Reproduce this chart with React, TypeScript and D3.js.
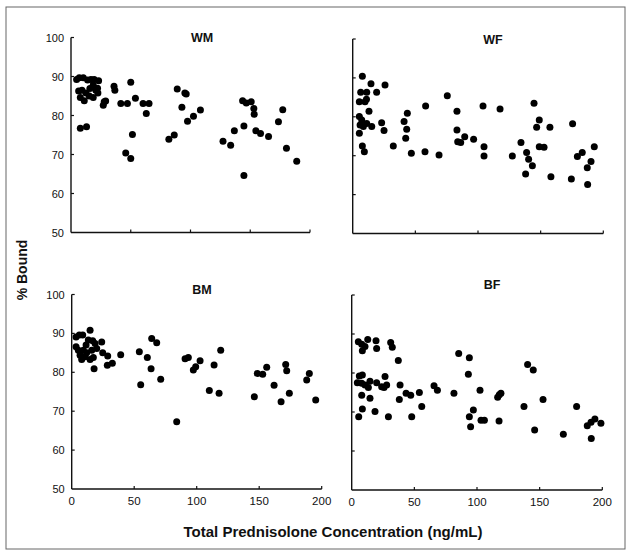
import React from "react";
import * as d3 from "d3";

// Data: [concentration ng/mL, % bound]
const wmData: [number, number][] = [
  [4.7, 89.2], [6.9, 89.7], [10.3, 89.7], [13.9, 89.1], [16.7, 89.2], [19.4, 89.2], [23.1, 88.9],
  [6.4, 86.3], [9.2, 86.5], [12.5, 85.8], [15.8, 86.9], [18.6, 87.8], [20.8, 86.5], [22.5, 85.8],
  [7.8, 84.6], [11.1, 83.8], [15.3, 85.0], [18.6, 84.6], [22.2, 87.0],
  [7.8, 76.7], [13.0, 77.1], [27.8, 83.5], [27.0, 82.6], [29.0, 83.7],
  [36.0, 87.5], [36.7, 86.5], [41.7, 83.1], [47.2, 83.1], [50.0, 88.5], [53.9, 84.4],
  [51.4, 75.1], [45.8, 70.4], [50.0, 69.0], [60.3, 83.1], [65.3, 83.1], [63.0, 80.5],
  [81.9, 73.9], [86.4, 75.0], [88.9, 86.8], [95.3, 85.8], [96.4, 85.5], [92.8, 82.1],
  [97.5, 78.5], [102.5, 79.8], [108.3, 81.4], [127.2, 73.4], [133.6, 72.4], [136.7, 76.1],
  [144.7, 64.6], [144.7, 77.3], [143.6, 83.8], [146.7, 83.2], [150.8, 83.5], [153.0, 81.8],
  [153.3, 80.3], [154.7, 76.1], [158.6, 75.4], [165.3, 74.6], [173.6, 78.4], [177.2, 81.5],
  [180.3, 71.6], [188.9, 68.3],
];

const wfData: [number, number][] = [
  [7.7, 90.4], [6.4, 86.3], [11.2, 86.3], [14.6, 88.5], [19.1, 86.3], [25.8, 88.2],
  [5.3, 83.9], [9.8, 83.9], [11.0, 84.5], [13.0, 81.4], [5.3, 80.1], [7.2, 79.2], [11.2, 78.3],
  [5.9, 77.9], [8.5, 77.5], [15.2, 77.5], [5.3, 75.8], [23.1, 78.5], [25.0, 76.5],
  [7.7, 72.5], [9.3, 71.0], [32.4, 72.5], [41.0, 78.8], [43.6, 80.9], [43.1, 76.8],
  [42.3, 74.5], [46.8, 70.6], [57.7, 71.0], [58.2, 82.8], [68.9, 70.2], [75.5, 85.4],
  [83.2, 81.4], [83.2, 76.6], [83.8, 73.6], [86.2, 73.4], [89.4, 74.9], [96.5, 74.2],
  [104.0, 82.8], [104.8, 72.3], [104.8, 69.9], [117.6, 82.0], [127.4, 69.9], [134.3, 73.4],
  [138.8, 70.8], [140.4, 69.1], [143.4, 67.4], [138.0, 65.3], [144.7, 83.5], [148.9, 79.2],
  [146.8, 77.3], [148.9, 72.3], [152.7, 72.2], [157.4, 77.3], [158.2, 64.6], [174.5, 64.0],
  [175.5, 78.2], [179.3, 69.8], [183.2, 70.8], [187.2, 66.9], [187.5, 62.6], [190.2, 68.5],
  [192.8, 72.3],
];

const bmData: [number, number][] = [
  [3.5, 89.1], [6.1, 89.6], [8.8, 89.6], [3.5, 86.6], [5.3, 85.7], [6.7, 84.4], [8.0, 83.3],
  [10.7, 84.0], [11.5, 87.0], [13.3, 88.3], [14.7, 90.8], [16.0, 85.7], [17.3, 83.8],
  [18.7, 87.4], [20.0, 86.1], [16.8, 88.1], [9.3, 85.7], [12.0, 85.0], [14.7, 83.3],
  [17.9, 80.9], [24.0, 87.8], [24.8, 85.0], [28.8, 84.2], [28.5, 81.8], [32.5, 82.3],
  [39.2, 84.5], [54.1, 85.3], [55.2, 76.8], [60.5, 83.8], [64.0, 88.7], [68.0, 87.6],
  [63.5, 80.9], [71.2, 78.2], [84.0, 67.3], [90.7, 83.5], [93.3, 83.8], [97.3, 80.6],
  [99.2, 81.4], [102.7, 83.0], [110.1, 75.3], [113.9, 81.9], [117.9, 74.6], [119.2, 85.7],
  [146.1, 73.7], [148.5, 79.7], [152.8, 79.5], [156.0, 81.3], [161.9, 76.7], [167.5, 72.4],
  [171.2, 82.0], [172.0, 80.4], [174.1, 74.6], [188.0, 78.0], [190.1, 79.7], [195.2, 72.9],
];

const bfData: [number, number][] = [
  [5.3, 88.0], [8.0, 87.4], [12.8, 88.6], [19.4, 88.3], [19.9, 86.3], [10.6, 86.8], [8.5, 85.7],
  [31.1, 87.8], [32.4, 86.6], [37.2, 83.2], [6.1, 79.2], [8.5, 79.5], [4.5, 77.5], [8.0, 77.4],
  [10.6, 76.9], [13.3, 76.3], [14.6, 77.9], [19.9, 77.5], [23.9, 76.5], [26.6, 79.1],
  [27.9, 76.9], [25.8, 76.3], [8.0, 74.3], [14.6, 73.5], [8.5, 70.8], [5.6, 68.8], [18.6, 70.1],
  [29.3, 68.8], [38.6, 76.9], [38.0, 73.2], [43.4, 74.8], [47.1, 74.3], [47.9, 68.8],
  [54.0, 75.0], [55.9, 71.4], [65.7, 76.7], [68.4, 75.6], [81.6, 74.8], [85.4, 85.0],
  [93.9, 83.9], [93.1, 79.7], [93.9, 68.8], [94.9, 66.2], [97.1, 70.5], [102.4, 75.6],
  [103.2, 67.9], [105.9, 67.9], [116.5, 73.8], [117.8, 74.4], [119.1, 74.8], [117.6, 67.7],
  [137.5, 71.4], [140.4, 82.2], [144.9, 80.8], [146.0, 65.4], [152.7, 73.2], [168.9, 64.3],
  [179.5, 71.4], [188.0, 66.5], [191.0, 67.4], [194.1, 68.2], [191.2, 63.2], [198.9, 67.1],
];

const panelTitles = ["WM", "WF", "BM", "BF"];
const xTicks = [0, 50, 100, 150, 200];
const yTicks = [50, 60, 70, 80, 90, 100];
const xLabel = "Total Prednisolone Concentration (ng/mL)";
const yLabel = "% Bound";

type Panel = {
  title: string;
  data: [number, number][];
  x0: number; x1: number; yTop: number; yBot: number;
  titleX: number; titleY: number;
  showY: boolean; showX: boolean;
};

const panels: Panel[] = [
  { title: panelTitles[0], data: wmData, x0: 71, x1: 310, yTop: 37.5, yBot: 232.5, titleX: 202, titleY: 41.5, showY: true, showX: false },
  { title: panelTitles[1], data: wfData, x0: 352.7, x1: 603.3, yTop: 39, yBot: 233.5, titleX: 493, titleY: 43.5, showY: false, showX: false },
  { title: panelTitles[2], data: bmData, x0: 71.7, x1: 321.7, yTop: 294.5, yBot: 489, titleX: 202, titleY: 293.5, showY: true, showX: true },
  { title: panelTitles[3], data: bfData, x0: 351.7, x1: 602.3, yTop: 295, yBot: 490, titleX: 492, titleY: 289, showY: false, showX: true },
];

const font = "'Liberation Sans', Arial, Helvetica, sans-serif";

function PanelView({ p }: { p: Panel }) {
  const x = d3.scaleLinear().domain([0, 200]).range([p.x0, p.x1]);
  const y = d3.scaleLinear().domain([50, 100]).range([p.yBot, p.yTop]);
  const tl = 3;
  return (
    <g>
      <text x={p.titleX} y={p.titleY} textAnchor="middle" fontFamily={font} fontWeight="bold" fontSize={12.5} fill="#111">
        {p.title}
      </text>
      <line x1={x(0)} x2={x(0)} y1={y(50)} y2={y(100)} stroke="#111" strokeWidth={1.4} />
      <line x1={x(0)} x2={x(200)} y1={y(50)} y2={y(50)} stroke="#111" strokeWidth={1.4} />
      {yTicks.filter((t) => t !== 50).map((t) => (
        <line key={"yt" + t} x1={x(0)} x2={x(0) + tl} y1={y(t)} y2={y(t)} stroke="#111" strokeWidth={1.2} />
      ))}
      {xTicks.filter((t) => t !== 0).map((t) => (
        <line key={"xt" + t} x1={x(t)} x2={x(t)} y1={y(50)} y2={y(50) - tl} stroke="#111" strokeWidth={1.2} />
      ))}
      {p.showY && yTicks.map((t) => (
        <text key={"yl" + t} x={x(0) - 7} y={y(t) + 4} textAnchor="end" fontFamily={font} fontSize={11} fill="#111">
          {t}
        </text>
      ))}
      {p.showX && xTicks.map((t) => (
        <text key={"xl" + t} x={x(t)} y={y(50) + 16} textAnchor="middle" fontFamily={font} fontSize={11.5} fill="#111">
          {t}
        </text>
      ))}
      {p.data.map((d, i) => (
        <circle key={i} cx={x(d[0])} cy={y(d[1])} r={3.5} fill="#000" />
      ))}
    </g>
  );
}

export default function App() {
  return (
    <svg width={632} height={555} style={{ position: "absolute", left: 0, top: 0, background: "#fff" }}>
      <rect x={0} y={0} width={632} height={555} fill="#fff" />
      <rect x={6} y={7} width={619} height={542} fill="none" stroke="#666" strokeWidth={1} />
      {panels.map((p) => <PanelView key={p.title} p={p} />)}
      <text x={22} y={270} transform="rotate(-90 22 270)" dy="0.35em" textAnchor="middle" fontFamily={font} fontWeight="bold" fontSize={14} fill="#111">
        {yLabel}
      </text>
      <text x={333} y={537} textAnchor="middle" fontFamily={font} fontWeight="bold" fontSize={15} fill="#111">
        {xLabel}
      </text>
    </svg>
  );
}
